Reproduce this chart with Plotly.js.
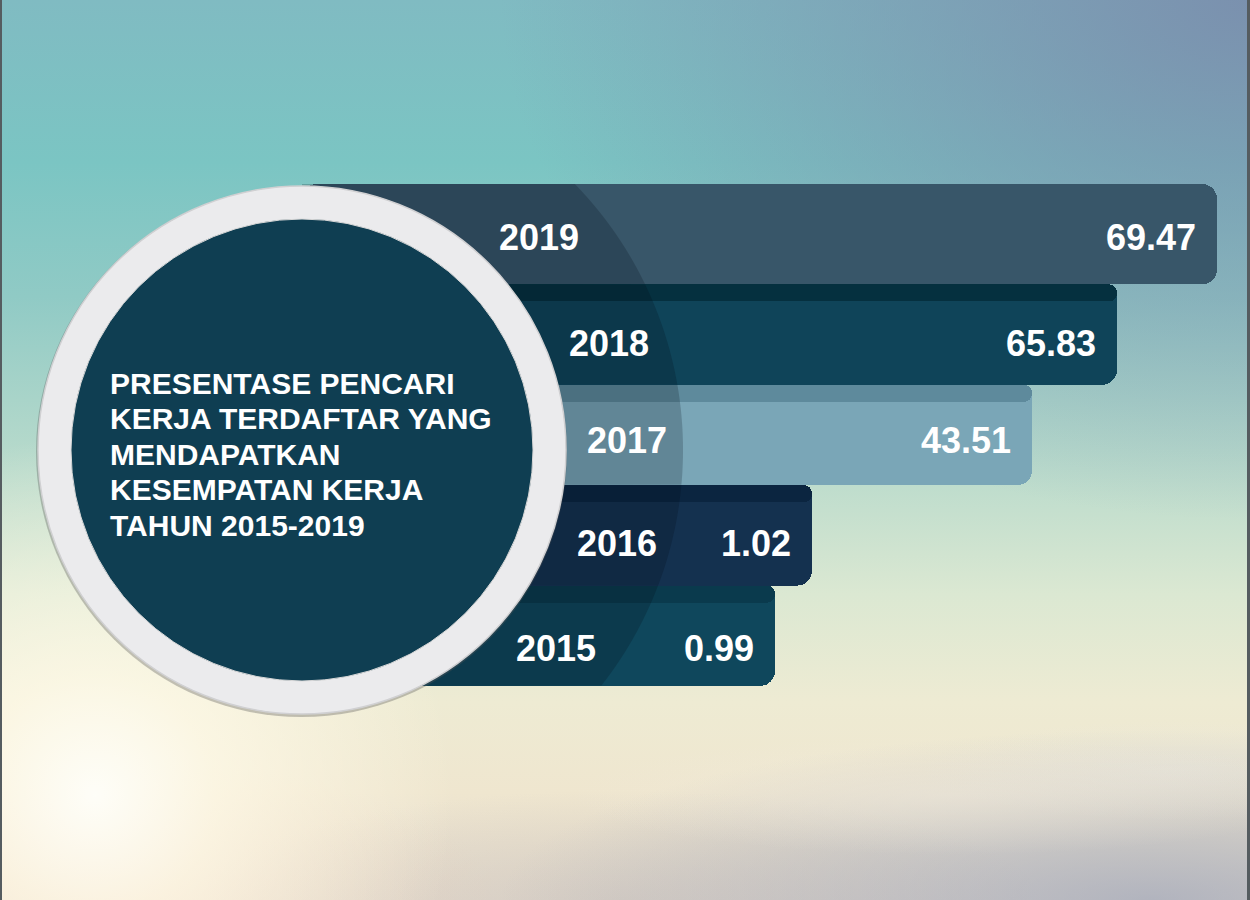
<!DOCTYPE html>
<html>
<head>
<meta charset="utf-8">
<script src="https://cdn.plot.ly/plotly-3.0.1.min.js"></script>
<style>
  html, body { margin: 0; padding: 0; }
  body {
    width: 1250px; height: 900px; overflow: hidden;
    background:
      radial-gradient(circle at 95px 795px, rgba(255,255,250,0.95) 0px, rgba(255,250,232,0.75) 120px, rgba(250,240,210,0) 360px),
      radial-gradient(ellipse 380px 60px at 950px 795px, rgba(240,234,222,0.5), rgba(240,234,222,0)),
      radial-gradient(ellipse 260px 50px at 1180px 770px, rgba(228,228,226,0.4), rgba(228,228,226,0)),
      radial-gradient(ellipse 750px 520px at 1250px 0px, rgba(122,140,172,0.9), rgba(122,140,172,0)),
      radial-gradient(ellipse 650px 170px at 1150px 900px, rgba(145,155,180,0.6), rgba(145,155,180,0)),
      radial-gradient(ellipse 420px 110px at 620px 900px, rgba(200,192,185,0.45), rgba(200,192,185,0)),
      radial-gradient(ellipse 380px 140px at 120px 900px, rgba(246,214,182,0.55), rgba(246,214,182,0)),
      linear-gradient(to bottom, #80bbc2 0%, #7bc5c3 18%, #90cac5 33%, #b5d9cb 50%, #dbe8d2 66%, #eeebd3 78%, #efe6cf 88%, #e2d9cd 100%);
  }
  #chart { width: 1250px; height: 900px; box-sizing: border-box; border-left: 2px solid #555c60; border-right: 3px solid #555c60; }
</style>
</head>
<body>
<div id="chart"></div>
<script>
// ---- data ----
const years = ['2015', '2016', '2017', '2018', '2019'];
const values = [0.99, 1.02, 43.51, 65.83, 69.47];
// the infographic's bars are not drawn to scale; these are their visual lengths (arbitrary units)
const barLength = [473, 510, 730, 815, 915];
const titleLines = [
  'PRESENTASE PENCARI',
  'KERJA TERDAFTAR YANG',
  'MENDAPATKAN',
  'KESEMPATAN KERJA',
  'TAHUN 2015-2019'
];

// ---- styles / layout constants ----
const W = 1250, H = 900;
const barColors = ['#0f475c', '#14314f', '#7aa6b7', '#0f4459', '#385669'];
const bandColors = ['#0a3a4d', '#0b2540', '#5e8a9c', '#05303f'];
const yearLabelX = [554, 615, 625, 607, 537];
const labelYOffset = [13, 8, 5, 9, 3];
const CX = 300, CY = 450;           // circle centre (px)
const R_SHADE = 381, R_RING = 264, R_DISK = 231;
const TOP = 184, BOTTOM = 686;
const ROW = (BOTTOM - TOP) / years.length;
const FONT = 'Liberation Sans, Arial, sans-serif';

const px = x => x / W;
const py = y => 1 - y / H;
const xUnit = x => x - CX;   // axis units: 0 at circle centre, 1 unit = 1 px

const bars = {
  type: 'bar', orientation: 'h',
  y: years, x: barLength, base: 0, width: 1,
  marker: { color: barColors, cornerradius: 15, line: { width: 0 } },
  hoverinfo: 'skip'
};
const bands = {
  type: 'bar', orientation: 'h',
  y: years.slice(0, 4), x: barLength.slice(0, 4), base: 0,
  width: 0.17, offset: 0.33,
  marker: { color: bandColors, cornerradius: 8, line: { width: 0 } },
  hoverinfo: 'skip'
};

// darker shading of each bar inside the large concentric circle
const shapes = [];
years.forEach((yr, i) => {
  const yBot = BOTTOM - i * ROW, yTop = yBot - ROW;
  let d = `M ${px(CX)},${py(yTop)}`;
  for (let y = yTop; y <= yBot + 0.01; y += 2) {
    const xx = CX + Math.sqrt(R_SHADE * R_SHADE - (y - CY) * (y - CY));
    d += ` L ${px(xx)},${py(y)}`;
  }
  d += ` L ${px(CX)},${py(yBot)} Z`;
  shapes.push({ type: 'path', xref: 'paper', yref: 'paper', path: d,
    fillcolor: 'rgba(0,10,20,0.2)', line: { width: 0 }, layer: 'above' });
});
// ring shadow, ring, disk
shapes.push({ type: 'circle', xref: 'paper', yref: 'paper',
  x0: px(CX - R_RING - 2), x1: px(CX + R_RING + 1), y0: py(CY + R_RING + 3), y1: py(CY - R_RING),
  fillcolor: 'rgba(90,90,90,0.35)', line: { width: 0 }, layer: 'above' });
shapes.push({ type: 'circle', xref: 'paper', yref: 'paper',
  x0: px(CX - R_RING), x1: px(CX + R_RING), y0: py(CY + R_RING), y1: py(CY - R_RING),
  fillcolor: '#ebebed', line: { width: 1.5, color: '#d0d0d2' }, layer: 'above' });
shapes.push({ type: 'circle', xref: 'paper', yref: 'paper',
  x0: px(CX - R_DISK), x1: px(CX + R_DISK), y0: py(CY + R_DISK), y1: py(CY - R_DISK),
  fillcolor: '#0f3e52', line: { width: 1, color: '#d8d8d8' }, layer: 'above' });

const annotations = [];
years.forEach((yr, i) => {
  const yMid = BOTTOM - (i + 0.5) * ROW + labelYOffset[i];
  annotations.push({ xref: 'paper', yref: 'paper', x: px(yearLabelX[i]), y: py(yMid),
    text: yr, showarrow: false, xanchor: 'center', yanchor: 'middle',
    font: { family: FONT, size: 36, color: '#ffffff', weight: 700 } });
  annotations.push({ xref: 'x', yref: 'paper', x: barLength[i] - 19, y: py(yMid),
    text: values[i].toFixed(2), showarrow: false, xanchor: 'right', yanchor: 'middle',
    font: { family: FONT, size: 36, color: '#ffffff', weight: 700 } });
});
titleLines.forEach((t, i) => {
  annotations.push({ xref: 'paper', yref: 'paper', x: px(106), y: py(383 + i * 35.5),
    text: t, showarrow: false, xanchor: 'left', yanchor: 'middle',
    font: { family: FONT, size: 30, color: '#ffffff', weight: 700 } });
});

const layout = {
  width: W, height: H,
  margin: { l: 0, r: 0, t: 0, b: 0, pad: 0 },
  paper_bgcolor: 'rgba(0,0,0,0)', plot_bgcolor: 'rgba(0,0,0,0)',
  barmode: 'overlay', bargap: 0, showlegend: false,
  xaxis: { range: [xUnit(0), xUnit(W)], domain: [0, 1], visible: false, fixedrange: true },
  yaxis: { type: 'category', categoryorder: 'array', categoryarray: years,
    range: [-0.5, years.length - 0.5], domain: [1 - BOTTOM / H, 1 - TOP / H],
    visible: false, fixedrange: true },
  shapes: shapes, annotations: annotations
};
Plotly.newPlot('chart', [bars, bands], layout, { displayModeBar: false, staticPlot: true });
</script>
</body>
</html>
